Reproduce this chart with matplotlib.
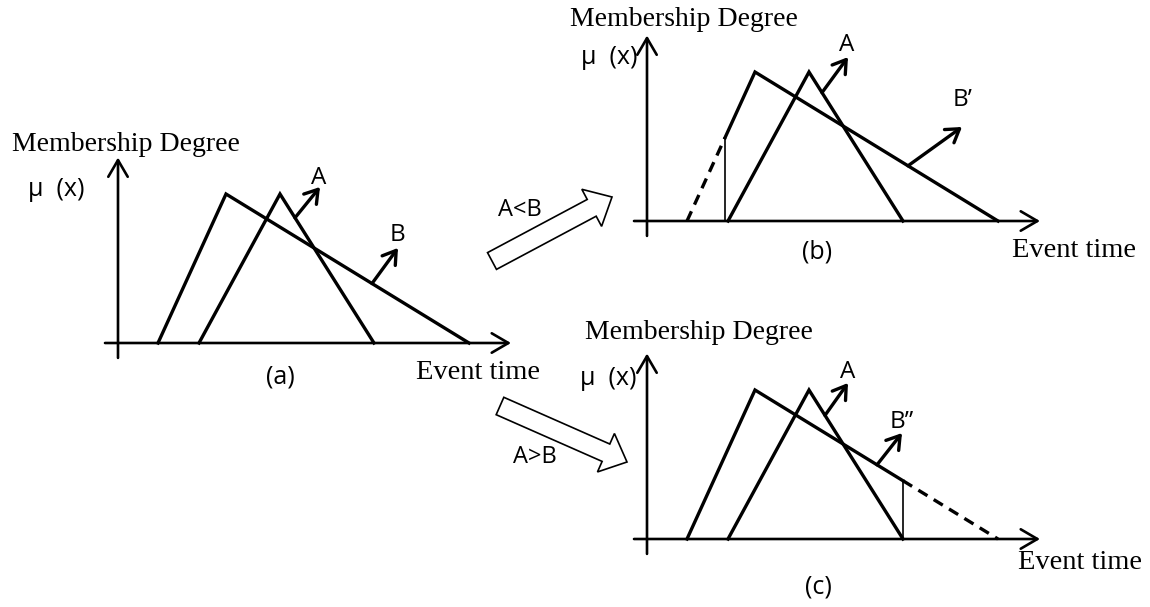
import numpy as np
import matplotlib.pyplot as plt
from matplotlib.patches import FancyArrow

W, H = 1150, 607

# triangular membership functions (event time, degree)
a_t = [8.1, 16.2, 25.6]
a_mu = [0.0, 1.0, 0.0]
b_t = [4.0, 10.8, 35.1]
b_mu = [0.0, 1.0, 0.0]

# where B gets cut in the two adjusted cases
cut_b = 7.8    # B' : part before A starts is dropped
cut_c = 25.6   # B'': part after A ends is dropped

b_names = ["B", "B\u2019", "B\u201d"]
tags = ["(a)", "(b)", "(c)"]

SERIF = "Liberation Serif"
SANS = "Open Sans"

# px per unit
SX, SY = 10.0, 149.0
XL, YL = (-4.0, 42.0), (-0.25, 1.4)

fig = plt.figure(figsize=(W / 100, H / 100), dpi=100)

# overlay in pixel coords for the big hollow arrows
over = fig.add_axes([0, 0, 1, 1])
over.set_xlim(0, W)
over.set_ylim(H, 0)
over.axis("off")


def panel_axes(ox, oy):
    left = ox + XL[0] * SX
    bottom = oy - YL[0] * SY
    w = (XL[1] - XL[0]) * SX
    h = (YL[1] - YL[0]) * SY
    ax = fig.add_axes([left / W, (H - bottom) / H, w / W, h / H])
    ax.set_xlim(*XL)
    ax.set_ylim(*YL)
    ax.axis("off")
    ax.patch.set_alpha(0)
    return ax


def small_arrow(ax, t0, tri_t, tri_mu, end, lab, lab_xy):
    y0 = np.interp(t0, tri_t, tri_mu)
    ax.annotate("", xy=end, xytext=(t0, y0),
                arrowprops=dict(arrowstyle="->,head_length=0.7,head_width=0.45",
                                lw=2.4, color="k", mutation_scale=13,
                                shrinkA=0, shrinkB=0))
    ax.text(lab_xy[0], lab_xy[1], lab, family=SANS, fontsize=17.5,
            ha="center", va="center")


def draw_axes(ax, md, mux, tag, et):
    ax.annotate("", xy=(0, 1.245), xytext=(0, -0.1),
                arrowprops=dict(arrowstyle="->,head_length=0.6,head_width=0.35",
                                lw=1.9, color="k", mutation_scale=20,
                                shrinkA=0, shrinkB=0))
    ax.annotate("", xy=(39.3, 0), xytext=(-1.3, 0),
                arrowprops=dict(arrowstyle="->,head_length=0.6,head_width=0.35",
                                lw=1.9, color="k", mutation_scale=20,
                                shrinkA=0, shrinkB=0))
    ax.text(md[0], md[1], "Membership Degree", family=SERIF, fontsize=20,
            ha="left", va="center")
    ax.text(mux[0], mux[1], "\u03bc  (x)", family=SANS, fontsize=18,
            ha="left", va="center")
    ax.text(tag[0], tag[1], tag[2], family=SANS, fontsize=18,
            ha="center", va="center")
    ax.text(et[0], et[1], "Event time", family=SERIF, fontsize=20.5,
            ha="left", va="center")


LW = 2.4

# (a) original A and B
ax = panel_axes(118, 343)
draw_axes(ax, (-10.6, 1.329), (-9.0, 1.03), (16.2, -0.23, tags[0]), (29.8, -0.195))
ax.plot(b_t, b_mu, color="k", lw=LW, solid_joinstyle="miter")
ax.plot(a_t, a_mu, color="k", lw=LW, solid_joinstyle="miter")
small_arrow(ax, 17.7, a_t, a_mu, (20.2, 1.047), "A", (20.1, 1.11))
small_arrow(ax, 25.4, b_t, b_mu, (28.0, 0.638), b_names[0], (28.0, 0.725))

# (b) A<B: B loses its left part
ax = panel_axes(647, 221)
draw_axes(ax, (-7.7, 1.349), (-6.6, 1.10), (17.0, -0.21, tags[1]), (36.5, -0.195))
mu_cut = np.interp(cut_b, b_t, b_mu)
ax.plot([b_t[0], cut_b], [b_mu[0], mu_cut], color="k", lw=LW, ls=(0, (3.2, 2.2)))
ax.plot([cut_b, cut_b], [0, mu_cut], color="k", lw=1.2)
ax.plot([cut_b] + b_t[1:], [mu_cut] + b_mu[1:], color="k", lw=LW,
        solid_joinstyle="miter")
ax.plot(a_t, a_mu, color="k", lw=LW, solid_joinstyle="miter")
small_arrow(ax, 17.5, a_t, a_mu, (20.1, 1.10), "A", (20.0, 1.18))
small_arrow(ax, 26.1, b_t, b_mu, (31.5, 0.631), b_names[1], (31.6, 0.81))

# (c) A>B: B loses its right part
ax = panel_axes(647, 539)
draw_axes(ax, (-6.2, 1.383), (-6.7, 1.08), (17.1, -0.322, tags[2]), (37.1, -0.161))
mu_cut = np.interp(cut_c, b_t, b_mu)
ax.plot(b_t[:2] + [cut_c], b_mu[:2] + [mu_cut], color="k", lw=LW,
        solid_joinstyle="miter")
ax.plot([cut_c, b_t[2]], [mu_cut, b_mu[2]], color="k", lw=LW, ls=(0, (3.2, 2.2)))
ax.plot([cut_c, cut_c], [0, mu_cut], color="k", lw=1.2)
ax.plot(a_t, a_mu, color="k", lw=LW, solid_joinstyle="miter")
small_arrow(ax, 17.8, a_t, a_mu, (20.1, 1.047), "A", (20.1, 1.12))
small_arrow(ax, 23.0, b_t, b_mu, (25.5, 0.711), b_names[2], (25.5, 0.785))

# hollow arrows from (a) to (b) and (c)
for (x0, y0, x1, y1), lab, lxy in [((492, 261, 612, 197), "A<B", (520, 210)),
                                   ((500, 406, 627, 462), "A>B", (535, 457))]:
    over.add_patch(FancyArrow(x0, y0, x1 - x0, y1 - y0, width=19,
                              head_width=42, head_length=23,
                              length_includes_head=True, fc="white",
                              ec="k", lw=1.2))
    over.text(lxy[0], lxy[1], lab, family=SANS, fontsize=17,
              ha="center", va="center")

fig.savefig("out.png", dpi=100)
